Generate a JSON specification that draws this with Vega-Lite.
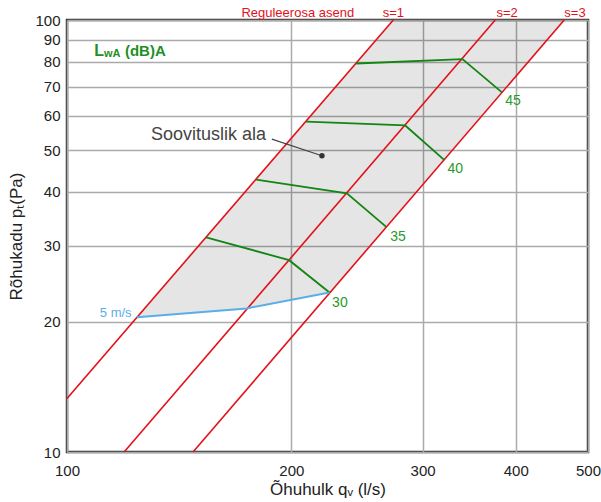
{
  "$schema": "https://vega.github.io/schema/vega-lite/v6.json",
  "width": 521,
  "height": 432,
  "autosize": {"type": "none"},
  "padding": {"left": 67, "top": 20, "right": 13, "bottom": 50},
  "config": {
    "view": {"stroke": "#333333", "strokeWidth": 2.5},
    "font": "Liberation Sans",
    "axis": {
      "grid": true,
      "gridColor": "#aaaaaa",
      "gridWidth": 1.5,
      "domain": false,
      "ticks": false,
      "labelFont": "Liberation Sans",
      "labelFontSize": 15,
      "labelColor": "#222222",
      "titleFont": "Liberation Sans",
      "titleFontWeight": "normal",
      "titleColor": "#222222",
      "labelOverlap": false,
      "labelFlush": false
    }
  },
  "datasets": {
    "shade": [
      {"q": 124.1, "p": 20.5, "p2": 20.5},
      {"q": 174.2, "p": 21.5, "p2": 40.4},
      {"q": 225, "p": 23.4, "p2": 67.4},
      {"q": 274, "p": 34.8, "p2": 100},
      {"q": 465, "p": 100, "p2": 100}
    ],
    "red": [
      {"s": "s=1", "q": 100, "p": 13.3},
      {"s": "s=1", "q": 274, "p": 100},
      {"s": "s=2", "q": 119.3, "p": 10},
      {"s": "s=2", "q": 375.4, "p": 100},
      {"s": "s=3", "q": 147.6, "p": 10},
      {"s": "s=3", "q": 464.6, "p": 100}
    ],
    "green": [
      {"L": "30", "i": 1, "q": 153.7, "p": 31.4},
      {"L": "30", "i": 2, "q": 198.6, "p": 27.8},
      {"L": "30", "i": 3, "q": 225, "p": 23.4},
      {"L": "35", "i": 1, "q": 179.4, "p": 42.7},
      {"L": "35", "i": 2, "q": 237.4, "p": 39.7},
      {"L": "35", "i": 3, "q": 268.1, "p": 33.2},
      {"L": "40", "i": 1, "q": 209.4, "p": 58.2},
      {"L": "40", "i": 2, "q": 284.3, "p": 57.0},
      {"L": "40", "i": 3, "q": 320.9, "p": 47.4},
      {"L": "45", "i": 1, "q": 244.3, "p": 79.3},
      {"L": "45", "i": 2, "q": 339.3, "p": 81.2},
      {"L": "45", "i": 3, "q": 383.3, "p": 68.0}
    ],
    "blue": [
      {"q": 124.1, "p": 20.5},
      {"q": 174.2, "p": 21.5},
      {"q": 225, "p": 23.4}
    ],
    "leader": [
      {"q": 188.3, "p": 53.0},
      {"q": 219.8, "p": 48.5}
    ],
    "dot": [{"q": 219.8, "p": 48.5}],
    "glabels": [
      {"label": "30", "q": 226.8, "p": 22.1},
      {"label": "35", "q": 271.4, "p": 31.5},
      {"label": "40", "q": 324.0, "p": 45.2},
      {"label": "45", "q": 387.3, "p": 64.9}
    ],
    "blabel": [{"label": "5 m/s", "q": 122.1, "p": 21.0}],
    "area_label": [{"label": "Soovituslik ala", "q": 184.9, "p": 54.2}],
    "reg_label": [{"label": "Reguleerosa asend", "q": 242.8, "p": 104}],
    "s_labels": [
      {"label": "s=1", "q": 274.1, "p": 104},
      {"label": "s=2", "q": 389.5, "p": 104},
      {"label": "s=3", "q": 480.3, "p": 104}
    ],
    "lwa_L": [{"label": "L", "q": 108.8, "p": 82.5}],
    "lwa_sub": [{"label": "wA", "q": 112.1, "p": 82.1}],
    "lwa_rest": [{"label": "(dB)A", "q": 119.6, "p": 82.5}]
  },
  "encoding": {
    "x": {
      "field": "q",
      "type": "quantitative",
      "scale": {"type": "log", "domain": [100, 500]},
      "axis": {
        "values": [100, 200, 300, 400, 500],
        "format": "d",
        "title": "Õhuhulk qᵥ (l/s)",
        "titleFontSize": 17,
        "labelPadding": 11,
        "titlePadding": 3
      }
    },
    "y": {
      "field": "p",
      "type": "quantitative",
      "scale": {"type": "log", "domain": [10, 100]},
      "axis": {
        "values": [10, 20, 30, 40, 50, 60, 70, 80, 90, 100],
        "format": "d",
        "title": "Rõhukadu pₜ(Pa)",
        "titleFontSize": 17,
        "labelPadding": 7,
        "titlePadding": 9
      }
    }
  },
  "layer": [
    {
      "data": {"name": "shade"},
      "mark": {"type": "area", "fill": "#000000", "fillOpacity": 0.1, "strokeWidth": 0},
      "encoding": {"y2": {"field": "p2"}}
    },
    {
      "data": {"name": "red"},
      "mark": {"type": "line", "color": "#e3101a", "strokeWidth": 1.6},
      "encoding": {"detail": {"field": "s"}}
    },
    {
      "data": {"name": "green"},
      "mark": {"type": "line", "color": "#138513", "strokeWidth": 1.8},
      "encoding": {"detail": {"field": "L"}, "order": {"field": "i"}}
    },
    {
      "data": {"name": "blue"},
      "mark": {"type": "line", "color": "#5aaee8", "strokeWidth": 2}
    },
    {
      "data": {"name": "leader"},
      "mark": {"type": "line", "color": "#444444", "strokeWidth": 1.2}
    },
    {
      "data": {"name": "dot"},
      "mark": {"type": "point", "filled": true, "color": "#333333", "size": 30, "opacity": 1}
    },
    {
      "data": {"name": "glabels"},
      "mark": {"type": "text", "align": "left", "baseline": "middle", "fontSize": 14, "color": "#2a9a2a"},
      "encoding": {"text": {"field": "label"}}
    },
    {
      "data": {"name": "blabel"},
      "mark": {"type": "text", "align": "right", "baseline": "middle", "fontSize": 13, "color": "#5aaee8"},
      "encoding": {"text": {"field": "label"}}
    },
    {
      "data": {"name": "area_label"},
      "mark": {"type": "text", "align": "right", "baseline": "middle", "fontSize": 18, "color": "#444444"},
      "encoding": {"text": {"field": "label"}}
    },
    {
      "data": {"name": "reg_label"},
      "mark": {"type": "text", "align": "right", "baseline": "middle", "fontSize": 13, "color": "#e3101a"},
      "encoding": {"text": {"field": "label"}}
    },
    {
      "data": {"name": "s_labels"},
      "mark": {"type": "text", "align": "center", "baseline": "middle", "fontSize": 13, "color": "#e3101a"},
      "encoding": {"text": {"field": "label"}}
    },
    {
      "data": {"name": "lwa_L"},
      "mark": {"type": "text", "align": "left", "baseline": "alphabetic", "fontSize": 16, "fontWeight": "bold", "color": "#1f8f1f"},
      "encoding": {"text": {"field": "label"}}
    },
    {
      "data": {"name": "lwa_sub"},
      "mark": {"type": "text", "align": "left", "baseline": "alphabetic", "fontSize": 11, "fontWeight": "bold", "color": "#1f8f1f"},
      "encoding": {"text": {"field": "label"}}
    },
    {
      "data": {"name": "lwa_rest"},
      "mark": {"type": "text", "align": "left", "baseline": "alphabetic", "fontSize": 15, "fontWeight": "bold", "color": "#1f8f1f"},
      "encoding": {"text": {"field": "label"}}
    }
  ]
}
